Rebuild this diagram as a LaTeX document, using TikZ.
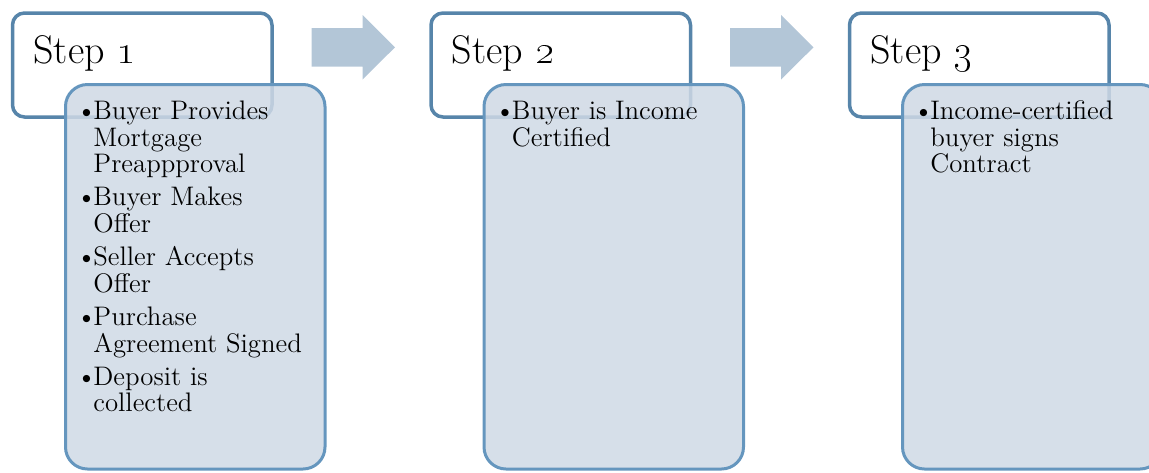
\documentclass[tikz,border=0pt]{standalone}
\definecolor{stepborder}{HTML}{5785AA}
\definecolor{detborder}{HTML}{6596BE}
\definecolor{detfill}{HTML}{CFD9E5}
\definecolor{arrfill}{HTML}{B3C6D7}
\tikzset{
  stepbox/.style={draw=stepborder, line width=1.75pt, fill=white, rounded corners=6pt},
  detbox/.style={draw=detborder, line width=1.5pt, fill=detfill, fill opacity=0.85, rounded corners=11pt},
  blockarrow/.style={fill=arrfill},
  steplabel/.style={anchor=base west, inner sep=0pt, font=\fontsize{20}{23}\selectfont},
  bullets/.style={anchor=base west, inner sep=0pt},
}
\newcommand\bul{\llap{\makebox[8.5pt][l]{\textbullet}}}
\newcommand\bitem{\par\hangindent=7pt\hangafter=0\noindent\bul}
\newcommand\nl{\newline}
\newcommand\blist[1]{\parbox[t]{150pt}{\fontsize{13.4}{13.35}\selectfont\raggedright\parskip=3.2pt\relax #1}}
\begin{document}
\begin{tikzpicture}[x=0.5pt,y=-0.5pt]
\useasboundingbox (0,0) rectangle (1149,472);
\clip (0,0) rectangle (1149,472);
% step 1
\path[stepbox] (12.5,13) rectangle (272,117);
\node[steplabel] (s1) at (33,63) {Step \oldstylenums{1}};
\path[detbox] (65.5,84.5) rectangle (325,469);
\node[bullets] (d1) at (79,119.3) {\blist{\bitem Buyer Provides\nl Mortgage\nl Preappproval
\bitem Buyer Makes\nl Offer
\bitem Seller Accepts\nl Offer
\bitem Purchase\nl Agreement Signed
\bitem Deposit is\nl collected}};
\fill[blockarrow] (311.5,28) -- (362.5,28) -- (362.5,15) -- (395,47.3) -- (362.5,79.5) -- (362.5,66.7) -- (311.5,66.7) -- cycle;
% step 2
\begin{scope}[shift={(418.5,0)}]
\path[stepbox] (12.5,13) rectangle (272,117);
\node[steplabel] (s2) at (33,63) {Step \oldstylenums{2}};
\path[detbox] (65.5,84.5) rectangle (325,469);
\node[bullets] (d2) at (79,119.3) {\blist{\bitem Buyer is Income\nl Certified}};
\fill[blockarrow] (311.5,28) -- (362.5,28) -- (362.5,15) -- (395,47.3) -- (362.5,79.5) -- (362.5,66.7) -- (311.5,66.7) -- cycle;
\end{scope}
% step 3
\begin{scope}[shift={(837,0)}]
\path[stepbox] (12.5,13) rectangle (272,117);
\node[steplabel] (s3) at (33,63) {Step \oldstylenums{3}};
\path[detbox] (65.5,84.5) rectangle (325,469);
\node[bullets] (d3) at (79,119.3) {\blist{\bitem Income-certified\nl buyer signs\nl Contract}};
\end{scope}
\end{tikzpicture}
\end{document}
